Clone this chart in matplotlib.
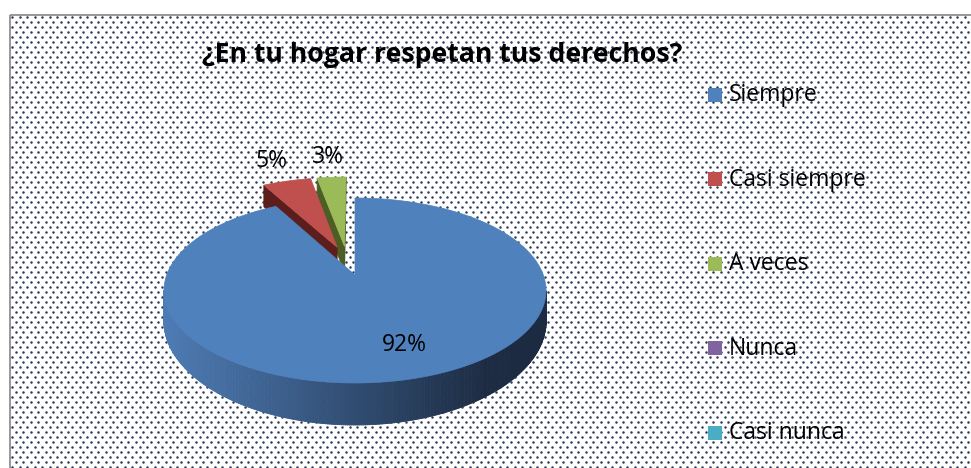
import numpy as np
import matplotlib.pyplot as plt
from matplotlib.patches import Rectangle, Polygon
from matplotlib.collections import PolyCollection
from matplotlib.colors import to_rgb

title = "¿En tu hogar respetan tus derechos?"
categories = ["Siempre", "Casi siempre", "A veces", "Nunca", "Casi nunca"]
values = [92, 5, 3, 0, 0]
colors = ["#4F81BD", "#C0504D", "#9BBB59", "#8064A2", "#4BACC6"]
# side wall shades (light edge, dark edge) and the cut face shade
side_light = ["#4d7bb4", "#7a2b29", "#6a8235", "#5e4a7a", "#37809a"]
side_dark = ["#1c2b42", "#4a1816", "#3e4d1d", "#3a2d4c", "#22505f"]
cut_color = ["#2a4266", "#5b1e1c", "#4d5e25", "#4a3a62", "#2d6a7e"]

FONT = ["Open Sans", "DejaVu Sans"]

# pie geometry in pixels (perspective ellipse like Excel's 3D pie)
CX, CY = 355, 275
RX, RY = 188.3, 89.9
PERSP = 0.1676
DEPTH, DEPTH_PERSP = 29.4, 0.3
EXPLODE = 0.17


def project(u, v, down=0.0):
    w = 1 + PERSP * v
    x = CX + RX * u / w
    y = CY - RY * v / w + down * DEPTH / (1 + DEPTH_PERSP * v)
    return x, y


def signed_area(xs, ys):
    xs, ys = np.asarray(xs), np.asarray(ys)
    return 0.5 * np.sum(xs * np.roll(ys, -1) - np.roll(xs, -1) * ys)


def shade(c0, c1, t):
    c0, c1 = np.array(to_rgb(c0)), np.array(to_rgb(c1))
    return tuple(c0 + (c1 - c0) * t)


fig = plt.figure(figsize=(9.71, 4.68), dpi=100)
ax = fig.add_axes([0, 0, 1, 1])
ax.set_xlim(0, 971)
ax.set_ylim(468, 0)
ax.axis("off")

# dotted chart area (staggered dot texture) + grey border
gx, gy = np.meshgrid(np.arange(12, 975, 7.5), np.arange(17, 472, 5.0))
gx = gx + (np.arange(gy.shape[0])[:, None] % 2) * 3.75
ax.scatter(gx.ravel(), gy.ravel(), s=3.2, marker="o", color="#2c3a56",
           linewidths=0, zorder=0)
ax.add_patch(Rectangle((9.5, 14.5), 980, 470, fill=False,
                       edgecolor="#868686", lw=1.2, zorder=1))

ax.text(442, 62, title, ha="center", va="baseline", fontsize=19.2,
        fontweight="bold", family=FONT, zorder=5)

total = sum(values)
bounds = np.concatenate([[0], np.cumsum(values)]) / total * 2 * np.pi
mids = (bounds[:-1] + bounds[1:]) / 2

# every slice is pulled out along its bisector; the first slice's shift is
# folded into the centre
offsets = [EXPLODE * (np.array([np.sin(m), np.cos(m)]) -
                      np.array([np.sin(mids[0]), np.cos(mids[0])])) for m in mids]

order = sorted([i for i, v in enumerate(values) if v > 0],
               key=lambda i: -np.cos(mids[i]))

for i in order:
    t0, t1 = bounds[i], bounds[i + 1]
    ou, ov = offsets[i]
    th = np.linspace(t0, t1, max(int(np.degrees(t1 - t0) * 2), 6))
    u = ou + np.sin(th)
    v = ov + np.cos(th)
    xt, yt = project(u, v)
    xb, yb = project(u, v, 1.0)
    ax_, ay_ = project(ou, ov)
    bx_, by_ = project(ou, ov, 1.0)

    # outer wall
    polys, fcs = [], []
    for j in range(len(th) - 1):
        qx = [xt[j], xt[j + 1], xb[j + 1], xb[j]]
        qy = [yt[j], yt[j + 1], yb[j + 1], yb[j]]
        if signed_area(qx, qy) < 0:
            polys.append(list(zip(qx, qy)))
            tt = np.clip((np.mean(qx) - (CX - RX)) / (2 * RX * 0.85), 0, 1)
            fcs.append(shade(side_light[i], side_dark[i], tt))
    if polys:
        ax.add_collection(PolyCollection(polys, facecolors=fcs, edgecolors=fcs,
                                         linewidths=0.6, zorder=2))

    # cut faces at both radial edges
    for k, sgn in ((0, -1), (-1, 1)):
        qx = [ax_, xt[k], xb[k], bx_]
        qy = [ay_, yt[k], yb[k], by_]
        if sgn * signed_area(qx, qy) > 0:
            ax.add_patch(Polygon(list(zip(qx, qy)), closed=True,
                                 facecolor=cut_color[i], edgecolor=cut_color[i],
                                 lw=0.5, zorder=2))

    # top face
    top = [(ax_, ay_)] + list(zip(xt, yt))
    ax.add_patch(Polygon(top, closed=True, facecolor=colors[i],
                         edgecolor=colors[i], lw=0.5, zorder=2))

    # data label: big slice inside, small ones outside
    pct = f"{round(values[i] / total * 100)}%"
    if values[i] / total > 0.5:
        r, a = 0.73, mids[i] - np.radians(4)
    else:
        r, a = 1.36, mids[i]
    lx, ly = project(ou + r * np.sin(a), ov + r * np.cos(a))
    ax.text(lx, ly, pct, ha="center", va="center", fontsize=16.5,
            family=FONT, zorder=5)

# legend
for i, name in enumerate(categories):
    yc = 94.5 + i * 84.6
    ax.add_patch(Rectangle((708, yc - 7), 14, 14, facecolor=colors[i],
                           edgecolor="none", zorder=4))
    ax.text(729, yc + 6.5, name, ha="left", va="baseline", fontsize=16.5,
            family=FONT, zorder=5)

fig.savefig("out.png", dpi=100)
